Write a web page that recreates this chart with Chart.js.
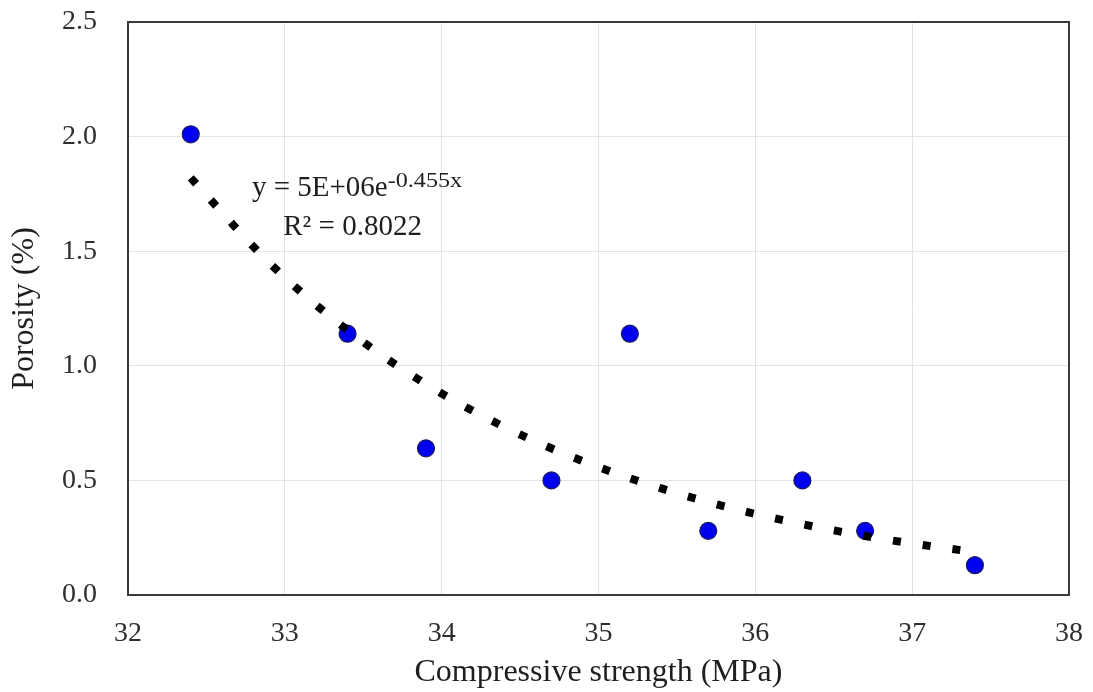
<!DOCTYPE html>
<html>
<head>
<meta charset="utf-8">
<script src="https://cdn.jsdelivr.net/npm/chart.js@4.4.1/dist/chart.umd.min.js"></script>
<style>
  html, body { margin: 0; padding: 0; background: #ffffff; }
  #wrap { width: 1093px; height: 692px; }
</style>
</head>
<body>
<div id="wrap"><canvas id="c" width="1093" height="692"></canvas></div>
<script>
// Measured points: compressive strength (MPa) vs porosity (%)
const strength = [32.4, 33.4, 33.9, 34.7, 35.2, 35.7, 36.3, 36.7, 37.4];
const porosity = [2.01, 1.14, 0.64, 0.50, 1.14, 0.28, 0.50, 0.28, 0.13];

// Trendline (dotted exponential fit) values
const trendX = [32.4, 32.9, 33.4, 33.9, 34.4, 34.9, 35.4, 35.9, 36.4, 36.9, 37.4];
const trendY = [1.82, 1.45, 1.155, 0.92, 0.733, 0.584, 0.465, 0.37, 0.295, 0.235, 0.187];

const xTicks = [32, 33, 34, 35, 36, 37, 38];
const yTicks = [0.0, 0.5, 1.0, 1.5, 2.0, 2.5];

const xTitle = 'Compressive strength (MPa)';
const yTitle = 'Porosity (%)';
const eqMain = 'y = 5E+06e';
const eqExp = '-0.455x';
const r2Text = 'R² = 0.8022';

const serif = '"Liberation Serif", "Times New Roman", serif';

const scatterData = strength.map((x, i) => ({ x: x, y: porosity[i] }));
const trendData = trendX.map((x, i) => ({ x: x, y: trendY[i] }));

const frame = {
  id: 'frame',
  afterDatasetsDraw(chart) {
    const { ctx, chartArea: a } = chart;
    ctx.save();
    ctx.strokeStyle = '#3a3a3a';
    ctx.lineWidth = 2;
    ctx.strokeRect(a.left, a.top, a.right - a.left, a.bottom - a.top);
    ctx.restore();
  },
  afterDraw(chart) {
    const { ctx } = chart;
    const xs = chart.scales.x, ys = chart.scales.y;
    ctx.save();
    ctx.fillStyle = '#1e1e1e';
    ctx.textBaseline = 'alphabetic';
    ctx.textAlign = 'left';
    const x0 = xs.getPixelForValue(32.79);
    const y0 = ys.getPixelForValue(1.74);
    ctx.font = '29px ' + serif;
    ctx.fillText(eqMain, x0, y0);
    const w = ctx.measureText(eqMain).width;
    ctx.save();
    ctx.translate(x0 + w, y0 - 9);
    ctx.scale(1.15, 1);
    ctx.font = '21px ' + serif;
    ctx.fillText(eqExp, 0, 0);
    ctx.restore();
    ctx.font = '29px ' + serif;
    const x1 = xs.getPixelForValue(32.99);
    const y1 = ys.getPixelForValue(1.57);
    ctx.fillText(r2Text, x1, y1);
    ctx.restore();
  }
};

new Chart(document.getElementById('c'), {
  type: 'scatter',
  data: {
    datasets: [
      {
        label: 'Trend',
        data: trendData,
        showLine: true,
        borderColor: '#000000',
        borderWidth: 8,
        borderDash: [8, 22],
        borderCapStyle: 'butt',
        cubicInterpolationMode: 'monotone',
        pointRadius: 0,
        pointHoverRadius: 0,
        fill: false,
        order: 0
      },
      {
        label: 'Porosity',
        data: scatterData,
        showLine: false,
        pointRadius: 8.5,
        pointHoverRadius: 8.5,
        pointBackgroundColor: '#0000f0',
        pointBorderColor: '#1a1a60',
        pointBorderWidth: 1.2,
        order: 1
      }
    ]
  },
  options: {
    responsive: false,
    animation: false,
    events: [],
    layout: { padding: { top: 22, right: 24, left: 0, bottom: 0 } },
    plugins: {
      legend: { display: false },
      tooltip: { enabled: false },
      title: { display: false }
    },
    scales: {
      x: {
        type: 'linear',
        min: xTicks[0],
        max: xTicks[xTicks.length - 1],
        afterBuildTicks(scale) { scale.ticks = xTicks.map(v => ({ value: v })); },
        afterFit(scale) {
          scale.height = 97;
          scale.paddingLeft = 0; scale.paddingRight = 0;
          scale.paddingTop = 0; scale.paddingBottom = 0;
        },
        grid: { color: '#e3e3e3', lineWidth: 1, drawTicks: false },
        border: { display: false },
        ticks: {
          color: '#2e2e2e',
          padding: 22,
          font: { family: serif, size: 28 },
          callback: v => String(v)
        },
        title: {
          display: true,
          text: xTitle,
          color: '#1e1e1e',
          font: { family: serif, size: 32 },
          padding: { top: 0, bottom: 0 }
        }
      },
      y: {
        type: 'linear',
        min: yTicks[0],
        max: yTicks[yTicks.length - 1],
        afterBuildTicks(scale) { scale.ticks = yTicks.map(v => ({ value: v })); },
        afterFit(scale) {
          scale.width = 128;
          scale.paddingLeft = 0; scale.paddingRight = 0;
          scale.paddingTop = 0; scale.paddingBottom = 0;
        },
        grid: { color: '#e3e3e3', lineWidth: 1, drawTicks: false },
        border: { display: false },
        ticks: {
          color: '#2e2e2e',
          padding: 31,
          font: { family: serif, size: 28 },
          callback: v => Number(v).toFixed(1)
        },
        title: {
          display: true,
          text: yTitle,
          color: '#1e1e1e',
          font: { family: serif, size: 32 },
          padding: { top: 5, bottom: 0 }
        }
      }
    }
  },
  plugins: [frame]
});
</script>
</body>
</html>
